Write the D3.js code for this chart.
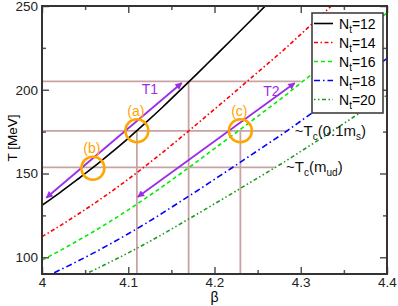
<!DOCTYPE html>
<html lang="en">
<head>
    <meta charset="UTF-8">
    <title>Tc vs beta</title>
    <script src="https://d3js.org/d3.v7.min.js" charset="utf-8"></script>
    <style>
        body { margin: 0; background: #fff; }
        text { font-family: "Liberation Sans", Arial, sans-serif; }
    </style>
</head>
<body>
<script>
    // beta grid and T curves, MeV
    var beta = [4.00, 4.02, 4.04, 4.06, 4.08, 4.10, 4.12, 4.14, 4.16, 4.18, 4.20,
                4.22, 4.24, 4.26, 4.28, 4.30, 4.32, 4.34, 4.36, 4.38, 4.40];
    var nt12 = [131.0, 138.3, 146.0, 153.9, 162.3, 171.0, 180.2, 189.7, 199.6, 209.6, 219.8,
                230.0, 240.3, 250.6, 261.0, 272.0, 283.0, 294.2, 305.5, 316.8, 328.0];
    var nt14 = [112.3, 118.5, 125.1, 131.9, 139.1, 146.6, 154.5, 162.6, 171.1, 179.7, 188.4,
                197.1, 206.0, 214.8, 223.7, 233.1, 242.6, 252.2, 261.9, 271.5, 281.1];
    var nt16 = [98.3, 103.7, 109.5, 115.4, 121.7, 128.3, 135.2, 142.3, 149.7, 157.2, 164.9,
                172.5, 180.2, 188.0, 195.8, 204.0, 212.3, 220.7, 229.1, 237.6, 246.0];
    var nt18 = [87.3, 92.2, 97.3, 102.6, 108.2, 114.0, 120.1, 126.5, 133.1, 139.7, 146.5,
                153.3, 160.2, 167.1, 174.0, 181.3, 188.7, 196.1, 203.7, 211.2, 218.7];
    var nt20 = [78.6, 83.0, 87.6, 92.3, 97.4, 102.6, 108.1, 113.8, 119.8, 125.8, 131.9,
                138.0, 144.2, 150.4, 156.6, 163.2, 169.8, 176.5, 183.3, 190.1, 196.8];
    var ntLabels = ["12", "14", "16", "18", "20"];

    // axis ticks
    var betaTicks = [4, 4.1, 4.2, 4.3, 4.4];
    var betaTickLabels = ["4", "4.1", "4.2", "4.3", "4.4"];
    var betaMinor = [4.05, 4.15, 4.25, 4.35];
    var tempTicks = [100, 150, 200, 250];
    var tempMinor = [125, 175, 225];

    // guide lines: [beta0, T0, beta1, T1]
    var guides = [
        [4.00, 205, 4.30, 205],
        [4.00, 175.5, 4.285, 175.5],
        [4.00, 153.7, 4.27, 153.7],
        [4.11, 90, 4.11, 175.5],
        [4.17, 90, 4.17, 205],
        [4.23, 90, 4.23, 175.5]
    ];
    // double arrows T1, T2: [beta0, T0, beta1, T1]
    var arrows = [[4.005, 135.5, 4.162, 204], [4.111, 136, 4.293, 204]];
    var arrowNames = ["T1", "T2"];
    var arrowLabelPos = [[4.125, 197.5], [4.266, 196]];
    // circled points
    var circleBeta = [4.11, 4.059, 4.23];
    var circleT = [175.5, 153.2, 175.5];
    var circleNames = ["(a)", "(b)", "(c)"];

    var margin = {top: 6, right: 11, bottom: 32, left: 42},
        width = 398 - margin.left - margin.right,
        height = 306 - margin.top - margin.bottom;

    var x = d3.scaleLinear().domain([4, 4.4]).range([0, width]);
    var y = d3.scaleLinear().domain([90, 250]).range([height, 0]);

    var svg = d3.select("body").append("svg")
        .attr("width", 398)
        .attr("height", 306)
        .append("g")
        .attr("transform", "translate(" + margin.left + "," + margin.top + ")");

    var defs = svg.append("defs");
    defs.append("clipPath").attr("id", "plotclip")
        .append("rect").attr("width", width).attr("height", height);
    defs.append("marker")
        .attr("id", "head")
        .attr("viewBox", "0 0 10 10")
        .attr("refX", 9).attr("refY", 5)
        .attr("markerWidth", 8).attr("markerHeight", 7)
        .attr("markerUnits", "userSpaceOnUse")
        .attr("orient", "auto-start-reverse")
        .append("path").attr("d", "M0,0L10,5L0,10Z").attr("fill", "#9a2ee6");

    var plot = svg.append("g").attr("clip-path", "url(#plotclip)");

    // guide lines
    plot.selectAll(".guide").data(guides).enter()
        .append("line")
        .attr("x1", function(d) { return x(d[0]); })
        .attr("y1", function(d) { return y(d[1]); })
        .attr("x2", function(d) { return x(d[2]); })
        .attr("y2", function(d) { return y(d[3]); })
        .attr("stroke", "#c9a3a3")
        .attr("stroke-width", 1.8);

    var series = [
        {vals: nt12, color: "#000000", dash: null},
        {vals: nt14, color: "#ff0000", dash: "4,2.5,1.5,2.5"},
        {vals: nt16, color: "#00ee00", dash: "4,3"},
        {vals: nt18, color: "#0000ff", dash: "6,3,1.5,3"},
        {vals: nt20, color: "#1f9a1f", dash: "1.5,2.5,1.5,2.5,4,2.5"}
    ];

    var line = d3.line()
        .x(function(d, i) { return x(beta[i]); })
        .y(function(d) { return y(d); })
        .curve(d3.curveMonotoneX);

    series.forEach(function(s) {
        plot.append("path")
            .datum(s.vals)
            .attr("d", line)
            .attr("fill", "none")
            .attr("stroke", s.color)
            .attr("stroke-width", 1.6)
            .attr("stroke-dasharray", s.dash);
    });

    // arrows
    plot.selectAll(".arr").data(arrows).enter()
        .append("line")
        .attr("x1", function(d) { return x(d[0]); })
        .attr("y1", function(d) { return y(d[1]); })
        .attr("x2", function(d) { return x(d[2]); })
        .attr("y2", function(d) { return y(d[3]); })
        .attr("stroke", "#9a2ee6")
        .attr("stroke-width", 1.8)
        .attr("marker-start", "url(#head)")
        .attr("marker-end", "url(#head)");

    svg.selectAll(".arrlab").data(arrowNames).enter()
        .append("text")
        .attr("x", function(d, i) { return x(arrowLabelPos[i][0]); })
        .attr("y", function(d, i) { return y(arrowLabelPos[i][1]); })
        .attr("text-anchor", "middle")
        .attr("fill", "#9a2ee6")
        .style("font-size", "14px")
        .text(function(d) { return d; });

    // circles
    svg.selectAll(".circ").data(circleT).enter()
        .append("circle")
        .attr("cx", function(d, i) { return x(circleBeta[i]); })
        .attr("cy", function(d) { return y(d); })
        .attr("r", 11.5)
        .attr("fill", "none")
        .attr("stroke", "#ffa500")
        .attr("stroke-width", 2.5);

    svg.selectAll(".circlab").data(circleNames).enter()
        .append("text")
        .attr("x", function(d, i) { return x(circleBeta[i]) - 1; })
        .attr("y", function(d, i) { return y(circleT[i]) - 15; })
        .attr("text-anchor", "middle")
        .attr("fill", "#ffa500")
        .style("font-size", "14px")
        .text(function(d) { return d; });

    // Tc labels
    var tc1 = svg.append("text")
        .attr("x", x(4.293)).attr("y", y(175.5) + 5)
        .style("font-size", "15px").attr("fill", "#111");
    tc1.append("tspan").text("~T");
    tc1.append("tspan").attr("dy", 4).style("font-size", "10px").text("c");
    tc1.append("tspan").attr("dy", -4).text("(0.1m");
    tc1.append("tspan").attr("dy", 4).style("font-size", "10px").text("s");
    tc1.append("tspan").attr("dy", -4).text(")");

    var tc2 = svg.append("text")
        .attr("x", x(4.283)).attr("y", y(153.7) + 5)
        .style("font-size", "15px").attr("fill", "#111");
    tc2.append("tspan").text("~T");
    tc2.append("tspan").attr("dy", 4).style("font-size", "10px").text("c");
    tc2.append("tspan").attr("dy", -4).text("(m");
    tc2.append("tspan").attr("dy", 4).style("font-size", "10px").text("ud");
    tc2.append("tspan").attr("dy", -4).text(")");

    // axes with inward ticks, mirrored on top and right
    function styleAxis(g) {
        g.select(".domain").remove();
        g.selectAll(".tick line").attr("stroke", "#555").attr("stroke-width", 1.5);
        g.selectAll(".tick text").attr("fill", "#222")
            .style("font-size", "13.5px")
            .style("font-family", "'Liberation Sans', Arial, sans-serif");
    }

    svg.append("g")
        .attr("transform", "translate(0," + height + ")")
        .call(d3.axisBottom(x).tickValues(betaTicks).tickSize(-7).tickPadding(3)
            .tickFormat(function(d, i) { return betaTickLabels[i]; }))
        .call(styleAxis);
    svg.append("g")
        .attr("transform", "translate(0," + height + ")")
        .call(d3.axisBottom(x).tickValues(betaMinor).tickSize(-4).tickFormat(""))
        .call(styleAxis);
    svg.append("g")
        .call(d3.axisTop(x).tickValues(betaTicks).tickSize(-7).tickFormat(""))
        .call(styleAxis);
    svg.append("g")
        .call(d3.axisTop(x).tickValues(betaMinor).tickSize(-4).tickFormat(""))
        .call(styleAxis);

    svg.append("g")
        .call(d3.axisLeft(y).tickValues(tempTicks).tickSize(-7).tickPadding(4))
        .call(styleAxis);
    svg.append("g")
        .call(d3.axisLeft(y).tickValues(tempMinor).tickSize(-4).tickFormat(""))
        .call(styleAxis);
    svg.append("g")
        .attr("transform", "translate(" + width + ",0)")
        .call(d3.axisRight(y).tickValues(tempTicks).tickSize(-7).tickFormat(""))
        .call(styleAxis);
    svg.append("g")
        .attr("transform", "translate(" + width + ",0)")
        .call(d3.axisRight(y).tickValues(tempMinor).tickSize(-4).tickFormat(""))
        .call(styleAxis);

    // frame
    svg.append("rect")
        .attr("width", width).attr("height", height)
        .attr("fill", "none")
        .attr("stroke", "#333")
        .attr("stroke-width", 2);

    // axis titles
    svg.append("text")
        .attr("x", width / 2)
        .attr("y", height + 28)
        .attr("text-anchor", "middle")
        .style("font-size", "14px")
        .text("β");

    svg.append("text")
        .attr("transform", "rotate(-90)")
        .attr("x", -132)
        .attr("y", -25)
        .attr("text-anchor", "middle")
        .style("font-size", "13.5px")
        .text("T [MeV]");

    // legend
    var legend = svg.append("g").attr("transform", "translate(270,7)");
    legend.append("rect")
        .attr("width", 71).attr("height", 100)
        .attr("fill", "#fff")
        .attr("stroke", "#333")
        .attr("stroke-width", 1.5);
    series.forEach(function(s, i) {
        var row = legend.append("g").attr("transform", "translate(0," + (10.5 + i * 19) + ")");
        row.append("line")
            .attr("x1", 2).attr("x2", 21)
            .attr("stroke", s.color)
            .attr("stroke-width", 1.6)
            .attr("stroke-dasharray", s.dash);
        var t = row.append("text").attr("x", 27).attr("y", 5).style("font-size", "14px");
        t.append("tspan").text("N");
        t.append("tspan").attr("dy", 4).style("font-size", "10px").text("t");
        t.append("tspan").attr("dy", -4).text("=" + ntLabels[i]);
    });
</script>
</body>
</html>
